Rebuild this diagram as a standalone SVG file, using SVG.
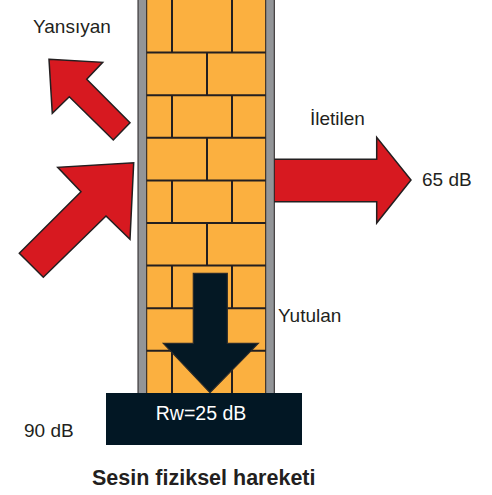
<svg xmlns="http://www.w3.org/2000/svg" width="492" height="495" viewBox="0 0 492 495">
  <style>
    .lbl { font-family: "Liberation Sans", Arial, sans-serif; font-size: 19px; fill: #231f20; }
    .title { font-family: "Liberation Sans", Arial, sans-serif; font-size: 21.5px; font-weight: bold; fill: #231f20; }
    .red { fill: #d71920; stroke: #231f20; stroke-width: 1.5; stroke-linejoin: miter; }
    .joint { stroke: #231f20; stroke-width: 2; fill: none; }
  </style>

  <rect width="492" height="495" fill="#ffffff"/>

  <!-- connectors: sound arrows -->
  <g id="connectors">
    <!-- transmitted (behind the wall) -->
    <polygon class="red" points="270,159.3 376.7,159.3 376.7,137.3 411,180 376.7,223 376.7,201.7 270,201.7"/>
    <!-- reflected -->
    <polygon class="red" points="49,59.3 102.7,62.3 86.7,79.3 130,122.7 113.3,140 69.3,96.7 52.3,113.3"/>
    <!-- incident -->
    <polygon class="red" points="133.7,162.7 130,239.3 106,216 43.3,277.3 19.3,253.3 81,191.7 57.7,167.3"/>
  </g>

  <!-- wall -->
  <g id="wall">
    <rect x="138" y="-2" width="136.3" height="396" fill="#939598" stroke="#231f20" stroke-width="1"/>
    <rect x="146.7" y="-2" width="119" height="396" fill="#fbb040" stroke="#231f20" stroke-width="1"/>
    <g class="joint">
      <!-- bed joints -->
      <path d="M146.7 52.6H265.7M146.7 95.2H265.7M146.7 137.8H265.7M146.7 180.4H265.7M146.7 223H265.7M146.7 265.6H265.7M146.7 308.2H265.7M146.7 350.8H265.7"/>
      <!-- head joints, rows with two joints -->
      <path d="M172 0V52.6M232 0V52.6M172 95.2V137.8M232 95.2V137.8M172 180.4V223M232 180.4V223M172 265.6V308.2M232 265.6V308.2M172 350.8V393M232 350.8V393"/>
      <!-- head joints, rows with one joint -->
      <path d="M207 52.6V95.2M207 137.8V180.4M207 223V265.6M207 308.2V350.8"/>
    </g>
  </g>

  <!-- absorbed arrow -->
  <g id="absorbed">
    <polygon points="193.3,273.3 227.3,273.3 227.3,343.3 258.3,343.3 210,392.7 163.3,343.3 193.3,343.3" fill="#041824" stroke="#2a2a2a" stroke-width="1.2"/>
  </g>

  <!-- base with rating -->
  <g id="base">
    <rect x="106" y="393" width="196" height="52" fill="#021724"/>
    <text x="201" y="420" text-anchor="middle" font-family="Liberation Sans, Arial, sans-serif" font-size="19.5" fill="#ffffff">Rw=25 dB</text>
  </g>

  <g id="labels">
    <text class="lbl" x="33" y="33">Yansıyan</text>
    <text class="lbl" x="310" y="125">İletilen</text>
    <text class="lbl" x="422" y="186" font-size="20">65 dB</text>
    <text class="lbl" x="278" y="322">Yutulan</text>
    <text class="lbl" x="24" y="437" font-size="20">90 dB</text>
    <text class="title" x="92" y="485">Sesin fiziksel hareketi</text>
  </g>
</svg>
